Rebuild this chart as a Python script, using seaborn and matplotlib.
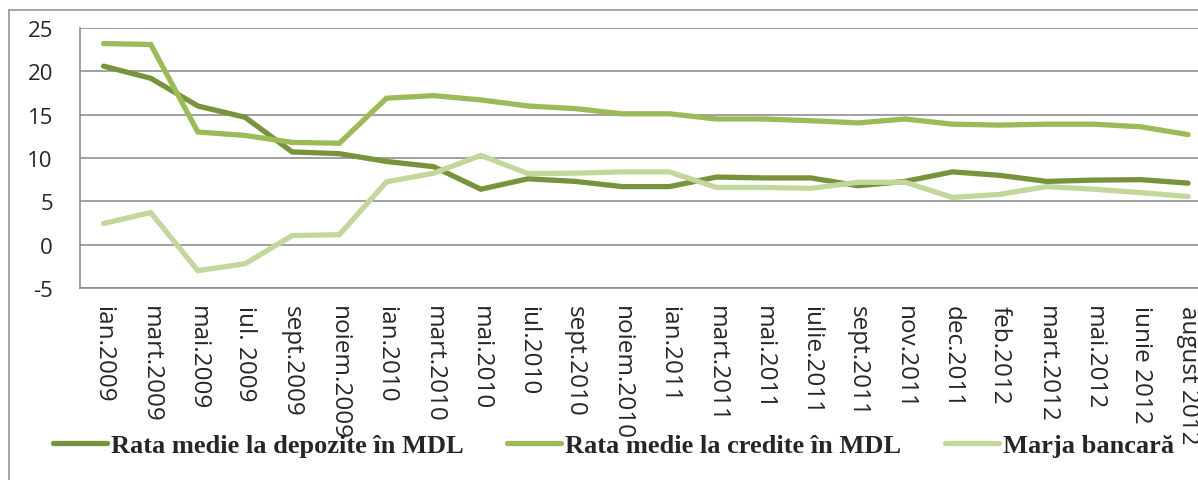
import pandas as pd
import matplotlib.pyplot as plt
import seaborn as sns
from matplotlib.lines import Line2D

# Date
luni = ['ian.2009', 'mart.2009', 'mai.2009', 'iul. 2009', 'sept.2009', 'noiem.2009',
        'ian.2010', 'mart.2010', 'mai.2010', 'iul.2010', 'sept.2010', 'noiem.2010',
        'ian.2011', 'mart.2011', 'mai.2011', 'iulie.2011', 'sept.2011', 'nov.2011',
        'dec.2011', 'feb.2012', 'mart.2012', 'mai.2012', 'iunie 2012', 'august 2012']
depozite = [20.6, 19.2, 16.0, 14.7, 10.7, 10.5, 9.6, 9.0, 6.4, 7.6, 7.3, 6.7,
            6.7, 7.8, 7.7, 7.7, 6.8, 7.3, 8.4, 8.0, 7.3, 7.45, 7.5, 7.1]
credite = [23.2, 23.1, 13.0, 12.6, 11.8, 11.7, 16.9, 17.2, 16.7, 16.0, 15.7, 15.1,
           15.1, 14.5, 14.5, 14.3, 14.05, 14.5, 13.9, 13.8, 13.9, 13.9, 13.6, 12.7]
marja = [2.45, 3.7, -3.0, -2.2, 1.05, 1.15, 7.25, 8.25, 10.3, 8.2, 8.25, 8.4,
         8.4, 6.6, 6.6, 6.5, 7.2, 7.2, 5.45, 5.8, 6.7, 6.4, 6.0, 5.55]

serii = ['Rata medie la depozite în MDL', 'Rata medie la credite în MDL', 'Marja bancară']
culori = ['#77933C', '#9BBB59', '#C3D69B']

poz = list(range(len(luni)))
df = pd.concat([
    pd.DataFrame({'poz': poz, 'valoare': depozite, 'serie': serii[0]}),
    pd.DataFrame({'poz': poz, 'valoare': credite, 'serie': serii[1]}),
    pd.DataFrame({'poz': poz, 'valoare': marja, 'serie': serii[2]}),
])

sns.set_style('white')
plt.rcParams['font.family'] = ['Open Sans', 'DejaVu Sans']
plt.rcParams['axes.unicode_minus'] = False

fig = plt.figure(figsize=(11.98, 4.81), dpi=100)
ax = fig.add_axes([80 / 1198, 1 - 289 / 481, 1 - 80 / 1198, 260 / 481])

sns.lineplot(data=df, x='poz', y='valoare', hue='serie', palette=dict(zip(serii, culori)),
             linewidth=3.8, sort=False, legend=False, ax=ax)
for l in ax.get_lines():
    l.set_solid_capstyle('round')
    l.set_solid_joinstyle('miter')

ax.set_xlim(-0.5, 23.21)
ax.set_ylim(-5, 25)
ax.set_yticks(range(-5, 30, 5))
ax.set_xticks(poz)
ax.set_xticklabels(luni, rotation=-90, va='top', ha='center', fontsize=17.5)
ax.tick_params(axis='y', labelsize=16, length=0, pad=19.5)
ax.tick_params(axis='x', length=0, pad=12)
ax.set_xlabel('')
ax.set_ylabel('')

ax.yaxis.grid(True, color='#868686', linewidth=1.1)
ax.set_axisbelow(True)
for s in ['top', 'right']:
    ax.spines[s].set_visible(False)
for s in ['left', 'bottom']:
    ax.spines[s].set_color('#868686')
    ax.spines[s].set_linewidth(1.1)

# chenarul exterior al diagramei
fig.add_artist(Line2D([9 / 1198, 9 / 1198], [0, 1 - 11 / 481], color='#8C8C8C', linewidth=1.1))
fig.add_artist(Line2D([9 / 1198, 1], [1 - 11 / 481, 1 - 11 / 481], color='#8C8C8C', linewidth=1.1))

handles = [Line2D([0], [0], color=c, linewidth=3.8, solid_capstyle='round') for c in culori]
fig.legend(handles, serii, loc='center left', bbox_to_anchor=(53 / 1198, 1 - 446 / 481),
           ncol=3, frameon=False, borderpad=0, borderaxespad=0,
           handlelength=2.05, handletextpad=0.15, columnspacing=1.65,
           prop={'family': 'Liberation Serif', 'weight': 'bold', 'size': 19})

fig.savefig('out.png', dpi=100)
